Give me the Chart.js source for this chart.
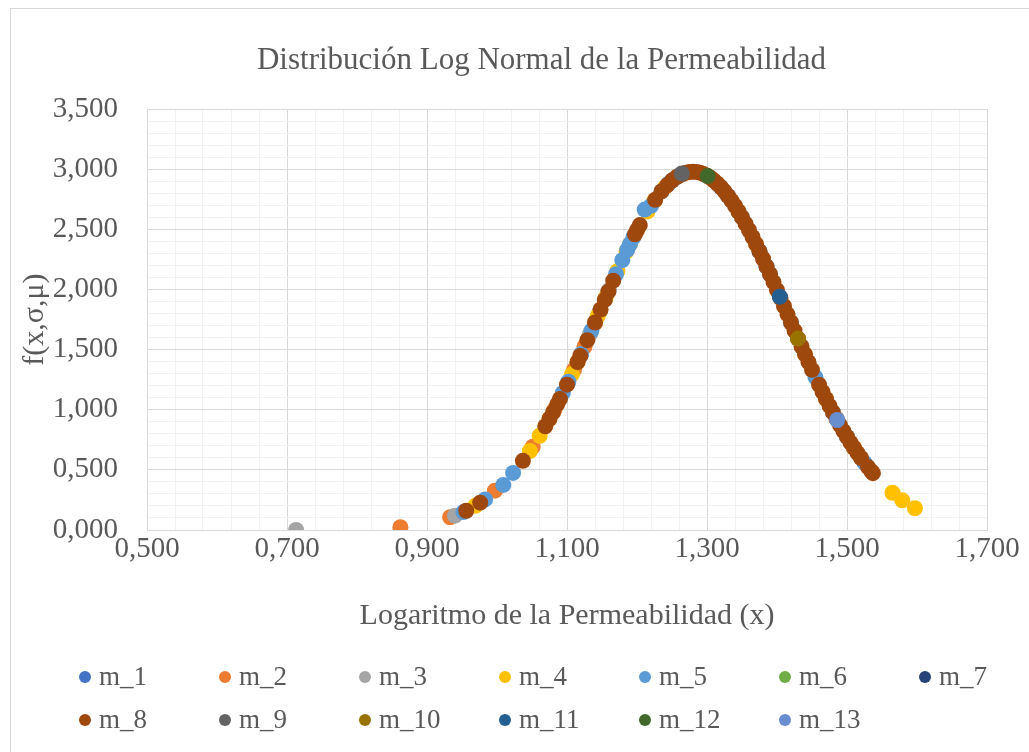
<!DOCTYPE html>
<html><head><meta charset="utf-8">
<script src="https://cdn.jsdelivr.net/npm/chart.js@4.4.0/dist/chart.umd.min.js"></script>
<style>html,body{margin:0;padding:0;background:#fff}#wrap{position:relative;width:1029px;height:752px}</style>
</head><body><div id="wrap"><canvas id="c"></canvas></div>
<script>
const chartTitle = 'Distribución Log Normal de la Permeabilidad';
const xTitle = 'Logaritmo de la Permeabilidad (x)';
const yTitle = 'f(x,σ,μ)';
const seriesLabels = ['m_1','m_2','m_3','m_4','m_5','m_6','m_7','m_8','m_9','m_10','m_11','m_12','m_13'];
const seriesColors = ['#4472C4','#ED7D31','#A5A5A5','#FFC000','#5B9BD5','#70AD47','#264478','#9E480E','#636363','#997300','#255E91','#43682B','#698ED0'];

const m1X = [1.33, 1.385];
const m1Y = [2.779, 2.19];
const m2X = [0.862, 0.933, 0.997, 1.051, 1.082, 1.11, 1.125, 1.14];
const m2Y = [0.023, 0.106, 0.327, 0.692, 1.00, 1.332, 1.526, 1.726];
const m3X = [0.713, 0.94, 1.12, 1.133, 1.147, 1.16, 1.255];
const m3Y = [0.0005, 0.119, 1.461, 1.632, 1.82, 1.995, 2.93];
const m4X = [0.969, 1.047, 1.061, 1.075, 1.107, 1.115, 1.144, 1.155, 1.172, 1.185, 1.19, 1.215, 1.225, 1.24,
  1.37, 1.44, 1.47, 1.51, 1.565, 1.579, 1.597];
const m4Y = [0.201, 0.657, 0.784, 0.925, 1.295, 1.396, 1.78, 1.928, 2.153, 2.318, 2.378, 2.65, 2.739, 2.85,
  2.378, 1.461, 1.09, 0.683, 0.31, 0.247, 0.181];
const m5X = [0.952, 0.983, 1.009, 1.023, 1.094, 1.102, 1.12, 1.135, 1.17, 1.179, 1.186, 1.19, 1.195, 1.211, 1.22,
  1.235, 1.245, 1.25, 1.26, 1.32, 1.35, 1.39, 1.42, 1.455, 1.48, 1.5, 1.525];
const m5Y = [0.149, 0.254, 0.375, 0.475, 1.14, 1.233, 1.461, 1.659, 2.127, 2.244, 2.33, 2.378, 2.437, 2.665, 2.696,
  2.816, 2.88, 2.906, 2.947, 2.85, 2.6, 2.127, 1.726, 1.27, 0.978, 0.774, 0.56];
const m6X = [1.345];
const m6Y = [2.648];
const m7X = [1.375];
const m7Y = [2.317];
const m8X = [0.956, 0.976, 1.037, 1.069, 1.075, 1.08, 1.086, 1.09, 1.10, 1.115, 1.119, 1.129, 1.14, 1.148, 1.154, 1.159, 1.166,
  1.197, 1.20, 1.204, 1.226, 1.235, 1.243, 1.25, 1.258,
  1.265, 1.27, 1.275, 1.28, 1.285, 1.29, 1.295, 1.30, 1.305, 1.31, 1.315, 1.32, 1.325, 1.33, 1.335, 1.34, 1.345, 1.35, 1.355,
  1.36, 1.365, 1.37, 1.375, 1.38, 1.385, 1.39, 1.395, 1.40, 1.405, 1.41, 1.415, 1.42, 1.425, 1.43, 1.435, 1.44, 1.445, 1.45,
  1.46, 1.465, 1.47, 1.475, 1.48, 1.485, 1.49, 1.495, 1.50, 1.505, 1.51, 1.515, 1.52,
  1.53, 1.535, 1.537];
const m8Y = [0.160, 0.227, 0.575, 0.863, 0.925, 0.978, 1.045, 1.090, 1.209, 1.396, 1.448, 1.579, 1.726, 1.834, 1.914, 1.982, 2.074,
  2.459, 2.493, 2.536, 2.746, 2.817, 2.867, 2.906, 2.94,
  2.961, 2.972, 2.978, 2.980, 2.978, 2.972, 2.961, 2.947, 2.929, 2.906, 2.880, 2.850, 2.817, 2.779, 2.739, 2.696, 2.649, 2.600, 2.548,
  2.493, 2.437, 2.378, 2.318, 2.256, 2.192, 2.127, 2.062, 1.995, 1.928, 1.861, 1.794, 1.726, 1.659, 1.592, 1.526, 1.461, 1.396, 1.332,
  1.209, 1.149, 1.090, 1.033, 0.978, 0.924, 0.873, 0.822, 0.774, 0.727, 0.683, 0.640, 0.599,
  0.523, 0.487, 0.473];
const m9X = [1.264];
const m9Y = [2.965];
const m10X = [1.43];
const m10Y = [1.592];
const m11X = [1.404];
const m11Y = [1.941];
const m12X = [1.301];
const m12Y = [2.944];
const m13X = [1.486];
const m13Y = [0.915];

const seriesX = [m1X,m2X,m3X,m4X,m5X,m6X,m7X,m8X,m9X,m10X,m11X,m12X,m13X];
const seriesY = [m1Y,m2Y,m3Y,m4Y,m5Y,m6Y,m7Y,m8Y,m9Y,m10Y,m11Y,m12Y,m13Y];

const xMin = 0.5, xMax = 1.7, xMajor = 0.2, xMinor = 0.04;
const yMin = 0, yMax = 3.5, yMajor = 0.5, yMinor = 0.1;

const fmt = v => v.toFixed(3).replace('.', ',');
const isMajor = (v, base, step) => { const r = (v - base) / step; return Math.abs(r - Math.round(r)) < 1e-6; };
const TXT = '#595959';
const SERIF = '"Liberation Serif", "Times New Roman", serif';

const datasets = seriesLabels.map((lab, i) => ({
  label: lab,
  data: seriesX[i].map((x, k) => ({x: x, y: seriesY[i][k]})),
  backgroundColor: seriesColors[i],
  borderColor: seriesColors[i],
  borderWidth: 0,
  pointRadius: 8,
  pointHoverRadius: 8,
  order: seriesLabels.length - 1 - i
}));

const frame = {
  id: 'frame',
  beforeDraw(chart) {
    const ctx = chart.ctx;
    ctx.save();
    ctx.fillStyle = '#fff';
    ctx.fillRect(0, 0, chart.width, chart.height);
    ctx.strokeStyle = '#d9d9d9';
    ctx.lineWidth = 1;
    ctx.strokeRect(10.5, 8.5, 1200, 900);
    ctx.restore();
  }
};

const legendCols = {
  id: 'legendCols',
  afterDraw(chart) {
    const ctx = chart.ctx;
    ctx.save();
    ctx.font = '27px ' + SERIF;
    ctx.textBaseline = 'middle';
    ctx.textAlign = 'left';
    chart.data.datasets.forEach((ds, i) => {
      const col = i % 7, row = Math.floor(i / 7);
      const cx = 85 + col * 140, cy = 677 + row * 43;
      ctx.fillStyle = ds.backgroundColor;
      ctx.beginPath(); ctx.arc(cx, cy, 6, 0, Math.PI * 2); ctx.fill();
      ctx.fillStyle = TXT;
      ctx.fillText(ds.label, cx + 14, cy + 1);
    });
    ctx.restore();
  }
};

new Chart(document.getElementById('c'), {
  type: 'scatter',
  data: { datasets },
  plugins: [frame, legendCols],
  options: {
    responsive: true,
    maintainAspectRatio: false,
    animation: false,
    events: [],
    layout: { padding: { left: 10, right: -44, top: 8, bottom: 110 } },
    plugins: {
      legend: { display: false },
      tooltip: { enabled: false },
      title: {
        display: true, text: chartTitle, color: TXT,
        font: { family: SERIF, size: 31, weight: 'normal', lineHeight: 1.2 },
        padding: { top: 34, bottom: 30 }
      }
    },
    scales: {
      x: {
        type: 'linear', min: xMin, max: xMax,
        afterFit: s => { s.height = 112; },
        ticks: {
          stepSize: xMinor, autoSkip: false, maxRotation: 0, padding: 2, color: TXT,
          font: { family: SERIF, size: 29 },
          callback: v => isMajor(v, xMin, xMajor) ? fmt(v) : ''
        },
        grid: {
          drawTicks: false, lineWidth: 1,
          color: c => (c.tick && isMajor(c.tick.value, xMin, xMajor)) ? '#d9d9d9' : '#f2f2f2'
        },
        border: { display: true, color: '#d9d9d9' },
        title: { display: true, text: xTitle, color: TXT, font: { family: SERIF, size: 30, lineHeight: 1.2 }, padding: { top: 0, bottom: 8 } }
      },
      y: {
        type: 'linear', min: yMin, max: yMax,
        afterFit: s => { s.width = 137; },
        ticks: {
          stepSize: yMinor, autoSkip: false, padding: 29, color: TXT,
          font: { family: SERIF, size: 29 },
          callback: v => isMajor(v, yMin, yMajor) ? fmt(v) : ''
        },
        grid: {
          drawTicks: false, lineWidth: 1,
          color: c => (c.tick && isMajor(c.tick.value, yMin, yMajor)) ? '#d9d9d9' : '#f2f2f2'
        },
        border: { display: true, color: '#d9d9d9' },
        title: { display: true, text: yTitle, color: TXT, font: { family: SERIF, size: 30, lineHeight: 1.2 }, padding: { top: 7, bottom: 0 } }
      },
      yRight: {
        type: 'linear', position: 'right', display: true,
        afterFit: s => { s.width = 86; },
        ticks: { display: false },
        grid: { display: false, drawOnChartArea: false },
        border: { display: false }
      }
    }
  }
});
</script></body></html>
